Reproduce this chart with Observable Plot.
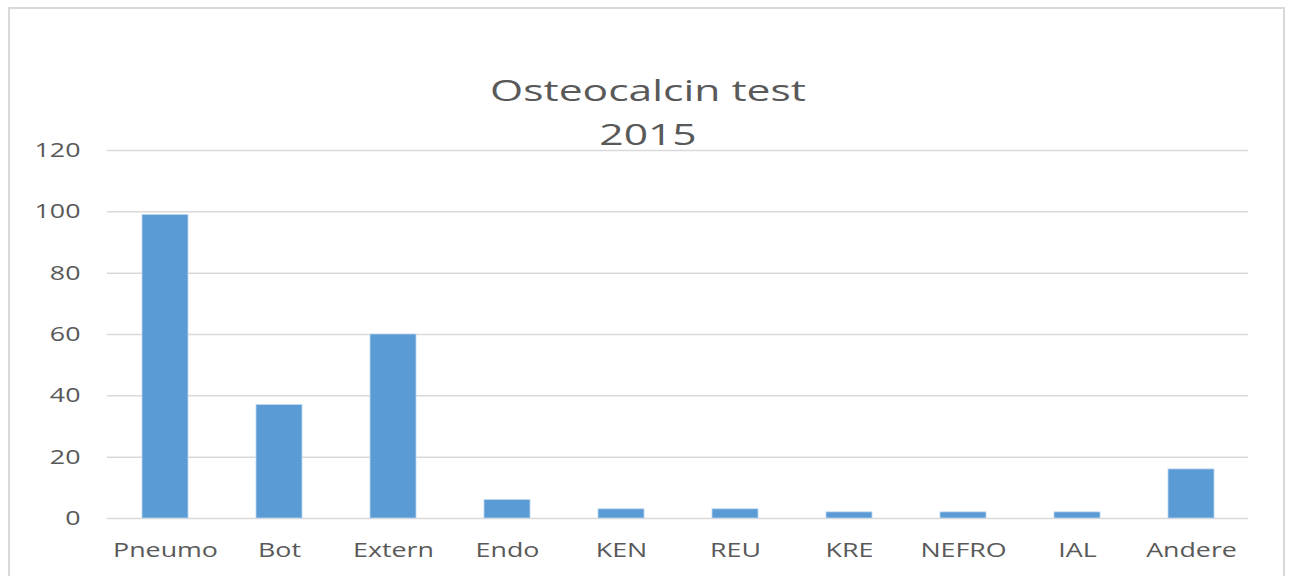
<!DOCTYPE html>
<html><head><meta charset="utf-8">
<script src="https://cdn.jsdelivr.net/npm/d3@7"></script>
<script src="https://cdn.jsdelivr.net/npm/@observablehq/plot@0.6"></script>
<style>
body{margin:0;background:#fff;width:1291px;height:576px;overflow:hidden;position:relative;font-family:"Open Sans",sans-serif;}
#frame{position:absolute;left:8px;top:7px;width:1277px;height:620px;border:2px solid #d9d9d9;box-sizing:border-box;}
.title{position:absolute;left:0;width:1296px;text-align:center;color:#595959;font-size:30px;line-height:30px;transform:scaleX(1.42);transform-origin:648px 50%;white-space:nowrap;}
#chart{position:absolute;left:0;top:0;}
</style>
</head><body>
<div id="frame"></div>
<div id="chart"></div>
<div class="title" style="top:75px">Osteocalcin test</div>
<div class="title" style="top:119px">2015</div>
<script>
const categories = ["Pneumo","Bot","Extern","Endo","KEN","REU","KRE","NEFRO","IAL","Andere"];
const values = [99, 37, 60, 6, 3, 3, 2, 2, 2, 16];
const yTicks = [0, 20, 40, 60, 80, 100, 120];

const data = categories.map((c, i) => ({cat: c, val: values[i]}));

const chart = Plot.plot({
  width: 1291,
  height: 576,
  marginLeft: 107,
  marginRight: 43,
  marginTop: 150,
  marginBottom: 58,
  style: {fontSize: "20px", color: "#595959", fontFamily: "'Open Sans', sans-serif", background: "transparent"},
  x: {domain: categories, paddingInner: 0.6, paddingOuter: 0.3, label: null},
  y: {domain: [0, 120], label: null},
  marks: [
    Plot.gridY(yTicks, {stroke: "#d9d9d9", strokeOpacity: 1, strokeWidth: 1.5}),
    Plot.barY(data, {x: "cat", y: "val", fill: "#5b9bd5", stroke: "#bdd7ee", strokeWidth: 0.8}),
    Plot.axisY(yTicks, {tickSize: 0, tickPadding: 27, label: null}),
    Plot.axisX({tickSize: 0, tickPadding: 24, label: null})
  ]
});
// widen tick label glyphs horizontally (the reference text is stretched)
chart.querySelectorAll('g[aria-label="x-axis tick label"] text, g[aria-label="y-axis tick label"] text').forEach(t => {
  const tr = t.getAttribute("transform") || "";
  t.setAttribute("transform", tr + " scale(1.34,1)");
});
document.getElementById("chart").appendChild(chart);
</script>
</body></html>
